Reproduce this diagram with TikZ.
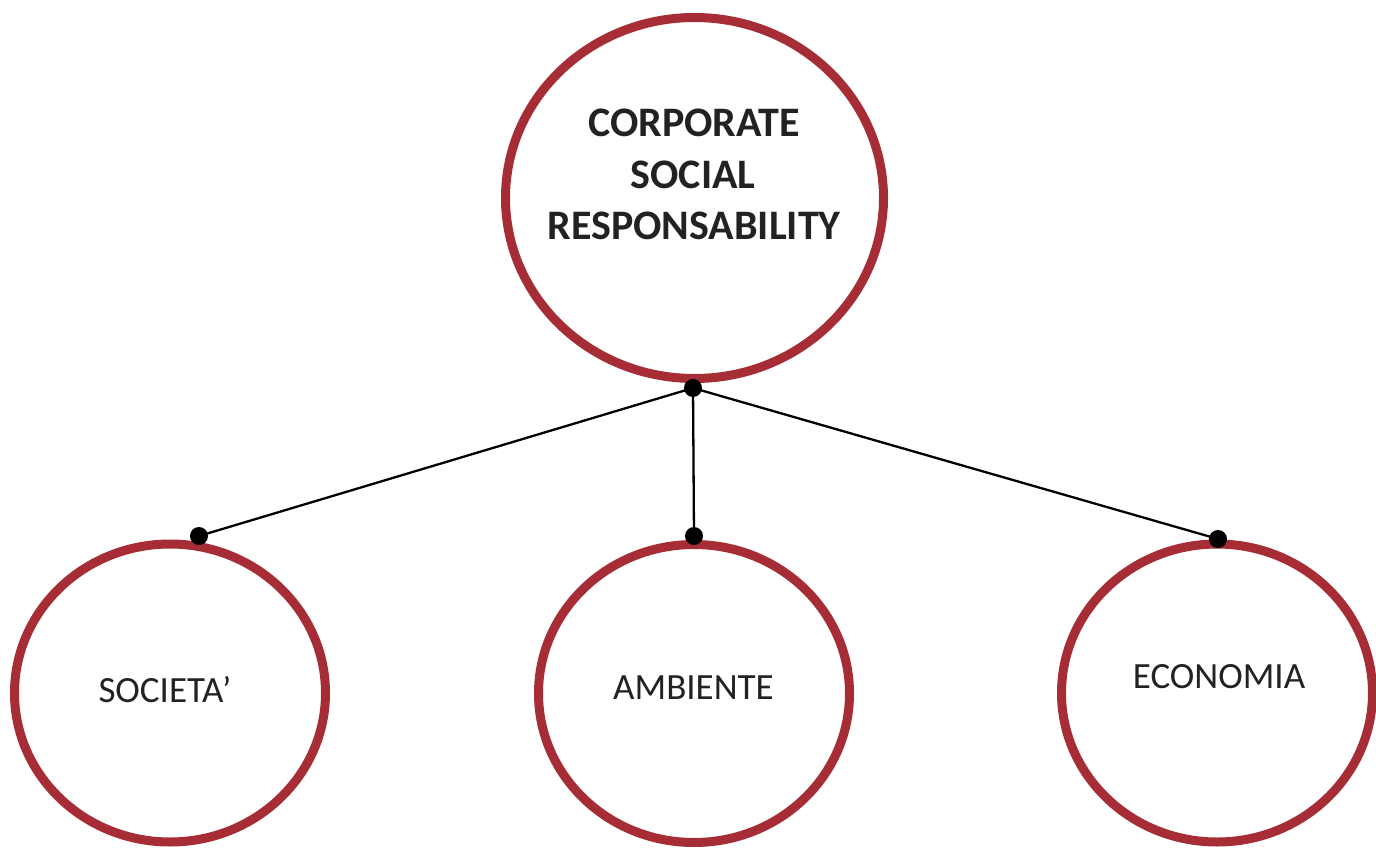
\documentclass[tikz,border=0pt]{standalone}
\usepackage{fontspec}
\setmainfont{Carlito}
\usetikzlibrary{shapes.geometric}
\definecolor{ring}{RGB}{166,44,54}
\definecolor{ink}{RGB}{34,34,34}
\tikzset{
  ring/.style={ellipse, draw=ring, line width=9pt, fill=white, inner sep=0pt},
  lbl/.style={text=ink, font=\fontsize{37}{42}\selectfont, inner sep=0pt, anchor=base},
  blbl/.style={text=ink, font=\fontsize{42}{46}\selectfont\bfseries, inner sep=0pt, anchor=base},
  link/.style={line width=2.3pt, black},
  dot/.style={circle, fill=black, inner sep=0pt, minimum size=18pt},
}
\begin{document}
\begin{tikzpicture}[x=1pt,y=-1pt]
\useasboundingbox (0,0) rectangle (1376,848);
\node[ring, minimum width=378pt, minimum height=361pt] (csr) at (694.5,198) {};
\node[ring, minimum width=311pt, minimum height=298pt] (soc) at (170,693) {};
\node[ring, minimum width=311pt, minimum height=298pt] (amb) at (694,693.5) {};
\node[ring, minimum width=311pt, minimum height=298pt] (eco) at (1217,693) {};
\node[blbl] (t1) at (694,137) {CORPORATE};
\node[blbl] (t2) at (693,188) {SOCIAL};
\node[blbl] (t3) at (694,239) {RESPONSABILITY};
\node[lbl] (ts) at (165,702) {SOCIETA’};
\node[lbl] (ta) at (693.5,699) {AMBIENTE};
\node[lbl] (te) at (1219,688) {ECONOMIA};
\coordinate (p0) at (693,388);
\coordinate (p1) at (199,536);
\coordinate (p2) at (694,536);
\coordinate (p3) at (1218,539);
\draw[link] (p0) -- (p1);
\draw[link] (p0) -- (p2);
\draw[link] (p0) -- (p3);
\node[dot] (d0) at (p0) {};
\node[dot] (d1) at (p1) {};
\node[dot] (d2) at (p2) {};
\node[dot] (d3) at (p3) {};
\end{tikzpicture}
\end{document}
